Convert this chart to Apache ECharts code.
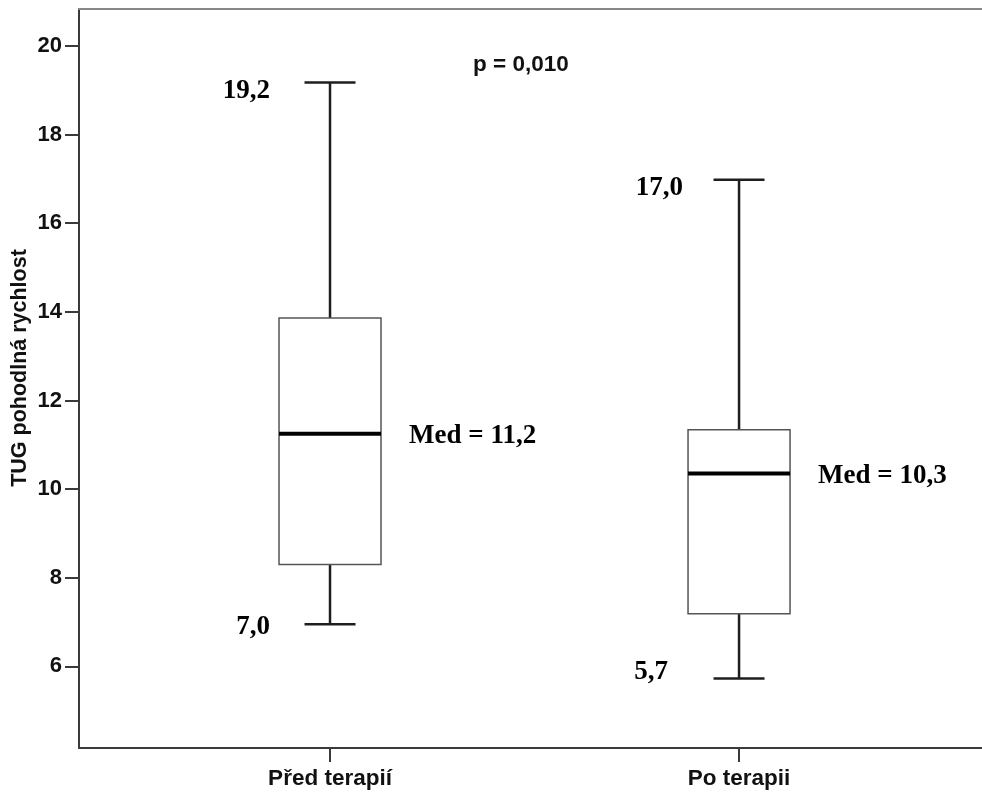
<!DOCTYPE html>
<html>
<head>
<meta charset="utf-8">
<script src="https://cdn.jsdelivr.net/npm/echarts@6/dist/echarts.min.js"></script>
<style>
html,body{margin:0;padding:0;background:#fff;}
#chart{width:982px;height:798px;}
</style>
</head>
<body>
<div id="chart"></div>
<script>
// ---- data ----
var categories = ['Před terapií', 'Po terapii'];
var whiskerMin = [6.95, 5.73];
var quartile1  = [8.30, 7.19];
var medians    = [11.25, 10.35];
var quartile3  = [13.86, 11.34];
var whiskerMax = [19.17, 16.98];
var maxLabels  = ['19,2', '17,0'];
var minLabels  = ['7,0', '5,7'];
var medLabels  = ['Med = 11,2', 'Med = 10,3'];
var yTicks     = [6, 8, 10, 12, 14, 16, 18, 20];
var yAxisTitle = 'TUG pohodlná rychlost';
var pText      = 'p = 0,010';

// ---- layout (style only) ----
var maxLabelLayout = [{dx: -60, dy: 8}, {dx: -56, dy: 8}];
var minLabelLayout = [{dx: -60, dy: 3}, {dx: -71, dy: -6}];
var BOX_W = 102, CAP_W = 51;
var serifFont = 'bold 27px "Liberation Serif", "Times New Roman", serif';
var sansFamily = '"Liberation Sans", Arial, sans-serif';

var boxData = categories.map(function (c, i) {
  return [i, whiskerMin[i], quartile1[i], medians[i], quartile3[i], whiskerMax[i]];
});

var chart = echarts.init(document.getElementById('chart'), null, {renderer: 'canvas'});

function renderBox(params, api) {
  var i = api.value(0);
  var pMin = api.coord([i, api.value(1)]);
  var pQ1 = api.coord([i, api.value(2)]);
  var pMed = api.coord([i, api.value(3)]);
  var pQ3 = api.coord([i, api.value(4)]);
  var pMax = api.coord([i, api.value(5)]);
  var cx = pMed[0];
  var whiskerStyle = {stroke: '#1e1e1e', lineWidth: 2.5};
  var children = [
    {type: 'line', shape: {x1: cx, y1: pMax[1], x2: cx, y2: pQ3[1]}, style: whiskerStyle},
    {type: 'line', shape: {x1: cx, y1: pQ1[1], x2: cx, y2: pMin[1]}, style: whiskerStyle},
    {type: 'line', shape: {x1: cx - CAP_W / 2, y1: pMax[1], x2: cx + CAP_W / 2, y2: pMax[1]}, style: whiskerStyle},
    {type: 'line', shape: {x1: cx - CAP_W / 2, y1: pMin[1], x2: cx + CAP_W / 2, y2: pMin[1]}, style: whiskerStyle},
    {type: 'rect', shape: {x: cx - BOX_W / 2, y: pQ3[1], width: BOX_W, height: pQ1[1] - pQ3[1]},
      style: {fill: '#ffffff', stroke: '#555555', lineWidth: 1.5}},
    {type: 'line', shape: {x1: cx - BOX_W / 2, y1: pMed[1], x2: cx + BOX_W / 2, y2: pMed[1]},
      style: {stroke: '#000000', lineWidth: 4}},
    {type: 'text', x: cx + maxLabelLayout[i].dx, y: pMax[1] + maxLabelLayout[i].dy,
      style: {text: maxLabels[i], font: serifFont, fill: '#000', align: 'right', verticalAlign: 'middle'}},
    {type: 'text', x: cx + minLabelLayout[i].dx, y: pMin[1] + minLabelLayout[i].dy,
      style: {text: minLabels[i], font: serifFont, fill: '#000', align: 'right', verticalAlign: 'middle'}},
    {type: 'text', x: cx + 79, y: pMed[1] + 2,
      style: {text: medLabels[i], font: serifFont, fill: '#000', align: 'left', verticalAlign: 'middle'}}
  ];
  return {type: 'group', children: children};
}

var option = {
  backgroundColor: '#ffffff',
  animation: false,
  grid: {left: 79, top: 9, right: 0, bottom: 50, containLabel: false},
  xAxis: [{
    type: 'value',
    min: -0.6137,
    max: 1.594,
    position: 'bottom',
    axisLine: {show: true, onZero: false, lineStyle: {color: '#3a3a3a', width: 2}},
    axisTick: {show: true, length: 14, customValues: [0, 1], lineStyle: {color: '#3a3a3a', width: 2}},
    axisLabel: {
      show: true, customValues: [0, 1], margin: 19,
      formatter: function (v) { return categories[Math.round(v)] || ''; },
      fontFamily: sansFamily, fontWeight: 'bold', fontSize: 22.5, color: '#111'
    },
    splitLine: {show: false}
  }, {
    type: 'value',
    min: -0.6137,
    max: 1.594,
    position: 'top',
    axisLine: {show: true, onZero: false, lineStyle: {color: '#888888', width: 2}},
    axisTick: {show: false},
    axisLabel: {show: false},
    splitLine: {show: false}
  }],
  yAxis: {
    type: 'value',
    min: 4.16,
    max: 20.83,
    axisLine: {show: true, onZero: false, lineStyle: {color: '#3a3a3a', width: 2}},
    axisTick: {show: true, length: 14, customValues: yTicks, lineStyle: {color: '#3a3a3a', width: 2}},
    axisLabel: {
      show: true, customValues: yTicks, margin: 17,
      fontFamily: sansFamily, fontWeight: 'bold', fontSize: 22, color: '#111'
    },
    splitLine: {show: false}
  },
  graphic: [{
    type: 'text', left: 473, top: 53,
    style: {text: pText, font: 'bold 22.5px ' + sansFamily, fill: '#111'}
  }, {
    type: 'text', x: 20, y: 368, rotation: Math.PI / 2,
    style: {text: yAxisTitle, font: 'bold 21.5px ' + sansFamily, fill: '#111', align: 'center', verticalAlign: 'middle'}
  }],
  series: [{
    type: 'custom',
    xAxisIndex: 0,
    yAxisIndex: 0,
    renderItem: renderBox,
    encode: {x: 0, y: [1, 2, 3, 4, 5]},
    data: boxData,
    clip: false
  }]
};
chart.setOption(option);
</script>
</body>
</html>
